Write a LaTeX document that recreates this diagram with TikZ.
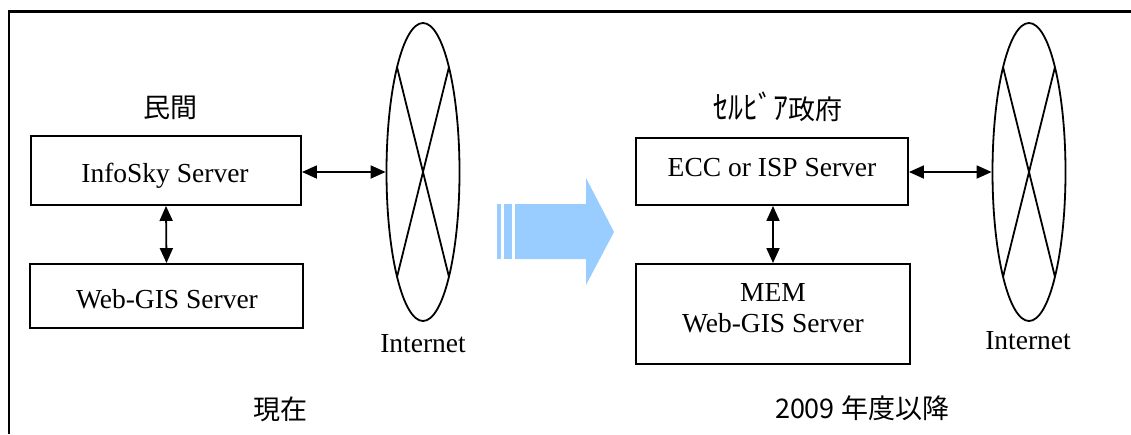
\documentclass[tikz,border=0pt]{standalone}
\usepackage{fontspec}
\setmainfont{Liberation Serif}
\newfontfamily\jpfont{Noto Sans CJK JP}
\usetikzlibrary{arrows.meta,shapes.geometric,calc}
\definecolor{arrowblue}{RGB}{153,204,255}
\begin{document}
\begin{tikzpicture}[x=1pt,y=-1pt,
  box/.style={draw, line width=1.9pt, rectangle, inner sep=0pt},
  lbl/.style={font=\fontsize{27.5}{30}\selectfont, anchor=base, inner sep=0pt},
  jlbl/.style={font=\jpfont\fontsize{27}{30}\selectfont, inner sep=0pt},
  conn/.style={line width=1.8pt, {Triangle[length=15pt,width=13pt]}-{Triangle[length=15pt,width=13pt]}},
  cloud/.style={draw, ellipse, line width=1.8pt, inner sep=0pt, minimum width=73pt, minimum height=298pt},
  crossline/.style={line width=1.8pt}]
\useasboundingbox (0,0) rectangle (1131,434);
\fill[white] (0,0) rectangle (1131,434);
\draw[line width=2.8pt] (1131,11.5) -- (9,11.5) -- (9,434);

% left side
\node[jlbl] (minkan) at (170,108) {民間};
\node[box, minimum width=270pt, minimum height=69pt] (info) at (166,170.5) {};
\node[lbl] (infot) at (165,182) {InfoSky Server};
\node[box, minimum width=273pt, minimum height=64pt] (gis) at (166.5,296) {};
\node[lbl] (gist) at (167,308) {Web-GIS Server};
\node[cloud] (net1) at (423,172) {};
\draw[crossline] ($(net1.center)+(-26,-105)$) -- ($(net1.center)+(26,105)$);
\draw[crossline] ($(net1.center)+(26,-105)$) -- ($(net1.center)+(-26,105)$);
\node[lbl] (net1t) at (423,352) {Internet};
\draw[conn] (net1.west -| info.east) -- (net1.west);
\draw[conn] (info.south) -- (gis.north);
\node[jlbl] (genzai) at (280,409) {現在};

% central arrow
\fill[arrowblue] (515,204) -- (586,204) -- (586,178) -- (614,232) -- (586,285) -- (586,259) -- (515,259) -- cycle;
\fill[arrowblue] (497,204) rectangle (501,259);
\fill[arrowblue] (504,204) rectangle (512,259);

% right side
\node[jlbl] (seifu) at (778,107) {\scalebox{1.1}[1.2]{ｾﾙﾋﾞｱ}政府};
\node[box, minimum width=272pt, minimum height=67pt] (ecc) at (772,171.5) {};
\node[lbl] (ecct) at (772,176) {ECC or ISP Server};
\node[box, minimum width=274pt, minimum height=100pt] (mem) at (773,314) {};
\node[lbl] (memt1) at (773,301) {MEM};
\node[lbl] (memt2) at (773,332) {Web-GIS Server};
\node[cloud] (net2) at (1029,172) {};
\draw[crossline] ($(net2.center)+(-26,-105)$) -- ($(net2.center)+(26,105)$);
\draw[crossline] ($(net2.center)+(26,-105)$) -- ($(net2.center)+(-26,105)$);
\node[lbl] (net2t) at (1028,349) {Internet};
\draw[conn] (net2.west -| ecc.east) -- (net2.west);
\draw[conn] (ecc.south -| mem.north) -- (mem.north);
\node[jlbl] (nendo) at (862,408) {2009 年度以降};
\end{tikzpicture}
\end{document}
